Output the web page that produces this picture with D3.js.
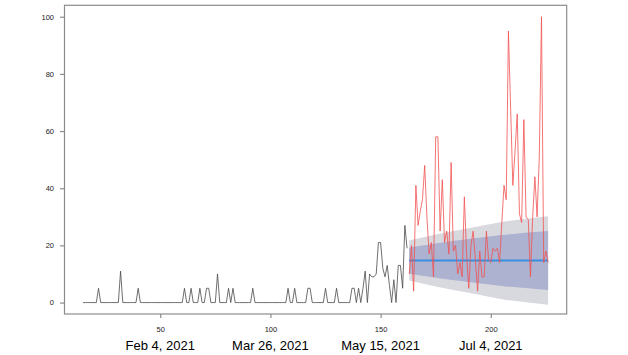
<!DOCTYPE html>
<html lang="en">
<head>
  <meta charset="UTF-8">
  <title>forecast</title>
  <script src="https://cdn.jsdelivr.net/npm/d3@7/dist/d3.min.js"></script>
  <style>
    body { margin: 0; background: #fff; }
    svg { display: block; font-family: "Liberation Sans", Arial, sans-serif; }
    .axis path, .axis line { stroke: #8c8c8c; stroke-width: 1.2; }
    .axis text { font-size: 7.5px; fill: #222; font-family: "Liberation Sans", Arial, sans-serif; }
    .date-label { font-size: 13px; fill: #000; }
  </style>
</head>
<body>
<svg width="628" height="355"></svg>
<script>
  // observed series (black), day index starts at 15
  const blackStart = 15;
  const blackValues = [
    0, 0, 0, 0, 0, 0, 0, 5, 0, 0,
    0, 0, 0, 0, 0, 0, 0, 11, 0, 0,
    0, 0, 0, 0, 0, 5, 0, 0, 0, 0,
    0, 0, 0, 0, 0, 0, 0, 0, 0, 0,
    0, 0, 0, 0, 0, 0, 5, 0, 0, 5,
    0, 0, 0, 5, 0, 0, 5, 5, 0, 0,
    0, 10, 0, 0, 0, 0, 5, 0, 5, 0,
    0, 0, 0, 0, 0, 0, 0, 5, 0, 0,
    0, 0, 0, 0, 0, 0, 0, 0, 0, 0,
    0, 0, 0, 5, 0, 0, 5, 0, 0, 0,
    0, 0, 5, 5, 0, 0, 0, 0, 0, 0,
    5, 0, 0, 0, 0, 5, 0, 0, 0, 0,
    0, 0, 5, 5, 0, 5, 0, 5, 11, 0,
    10, 9, 9, 10, 21, 21, 12, 9, 13, 6,
    0, 8, 0, 13, 13, 5, 27, 19
  ];

  // test series (red), starts at day 163
  const redStart = 163;
  const redValues = [
    10, 20, 4, 41, 27, 32, 36, 48, 30, 17,
    21, 9, 58, 58, 25, 43, 21, 25, 17, 49,
    18, 20, 10, 14, 9, 37, 17, 5, 20, 25,
    15, 4, 18, 9, 9, 25, 15, 14, 19, 18,
    19, 14, 28, 41, 36, 95, 68, 41, 53, 66,
    31, 28, 64, 30, 29, 9, 30, 44, 30, 51,
    100, 14, 18, 14
  ];

  // forecast mean and prediction intervals
  const fcDays = [163, 175, 190, 205, 226];
  const fcMean = [14.7, 14.7, 14.7, 14.7, 14.7];
  const hi95 = [21.7, 23.8, 26.0, 28.2, 30.2];
  const lo95 = [7.7, 5.6, 3.4, 1.2, -0.8];
  const hi80 = [19.3, 20.7, 22.2, 23.6, 25.0];
  const lo80 = [10.1, 8.7, 7.2, 5.8, 4.4];

  // axes
  const xTicks = [50, 100, 150, 200];
  const xDates = ["Feb 4, 2021", "Mar 26, 2021", "May 15, 2021", "Jul 4, 2021"];
  const yTicks = [0, 20, 40, 60, 80, 100];

  const svg = d3.select('svg');
  const box = { left: 64.5, right: 566.7, top: 5.3, bottom: 314 };

  const black = blackValues.map((v, i) => ({ t: blackStart + i, v }));
  const red = redValues.map((v, i) => ({ t: redStart + i, v }));
  const fc = fcDays.map((t, i) => ({ t, m: fcMean[i], h95: hi95[i], l95: lo95[i], h80: hi80[i], l80: lo80[i] }));

  // R style 4% padding on x
  const tMin = blackStart, tMax = redStart + redValues.length - 1;
  const pad = (tMax - tMin) * 0.04;
  const x = d3.scaleLinear().domain([tMin - pad, tMax + pad]).range([box.left, box.right]);
  const y = d3.scaleLinear().domain([-4, 104]).range([box.bottom, box.top]);

  // bands
  svg.append('path').datum(fc)
    .attr('fill', '#d8d8df')
    .attr('d', d3.area().curve(d3.curveMonotoneX).x(d => x(d.t)).y0(d => y(d.l95)).y1(d => y(d.h95)));
  svg.append('path').datum(fc)
    .attr('fill', '#acb2cf')
    .attr('d', d3.area().curve(d3.curveMonotoneX).x(d => x(d.t)).y0(d => y(d.l80)).y1(d => y(d.h80)));

  const line = d3.line().x(d => x(d.t)).y(d => y(d.v));

  svg.append('path').datum(black)
    .attr('fill', 'none').attr('stroke', '#4a4a4a').attr('stroke-width', 0.8)
    .attr('d', line);

  svg.append('path').datum(fc)
    .attr('fill', 'none').attr('stroke', '#3a8ee0').attr('stroke-width', 2)
    .attr('d', d3.line().x(d => x(d.t)).y(d => y(d.m)));

  svg.append('path').datum(red)
    .attr('fill', 'none').attr('stroke', '#f25050').attr('stroke-width', 0.8)
    .attr('d', line);

  // plot box
  svg.append('rect')
    .attr('x', box.left).attr('y', box.top)
    .attr('width', box.right - box.left).attr('height', box.bottom - box.top)
    .attr('fill', 'none').attr('stroke', '#8c8c8c').attr('stroke-width', 1.2);

  svg.append('g')
    .attr('class', 'axis')
    .attr('transform', `translate(${box.left},0)`)
    .call(d3.axisLeft(y).tickValues(yTicks).tickSize(4.5).tickSizeOuter(0).tickPadding(6))
    .call(g => g.select('.domain').remove());

  svg.append('g')
    .attr('class', 'axis')
    .attr('transform', `translate(0,${box.bottom})`)
    .call(d3.axisBottom(x).tickValues(xTicks).tickSize(4).tickSizeOuter(0).tickPadding(9))
    .call(g => g.select('.domain').remove());

  svg.selectAll('text.date-label')
    .data(xTicks)
    .enter().append('text')
    .attr('class', 'date-label')
    .attr('x', d => x(d))
    .attr('y', 350)
    .attr('text-anchor', 'middle')
    .text((d, i) => xDates[i]);
</script>
</body>
</html>
